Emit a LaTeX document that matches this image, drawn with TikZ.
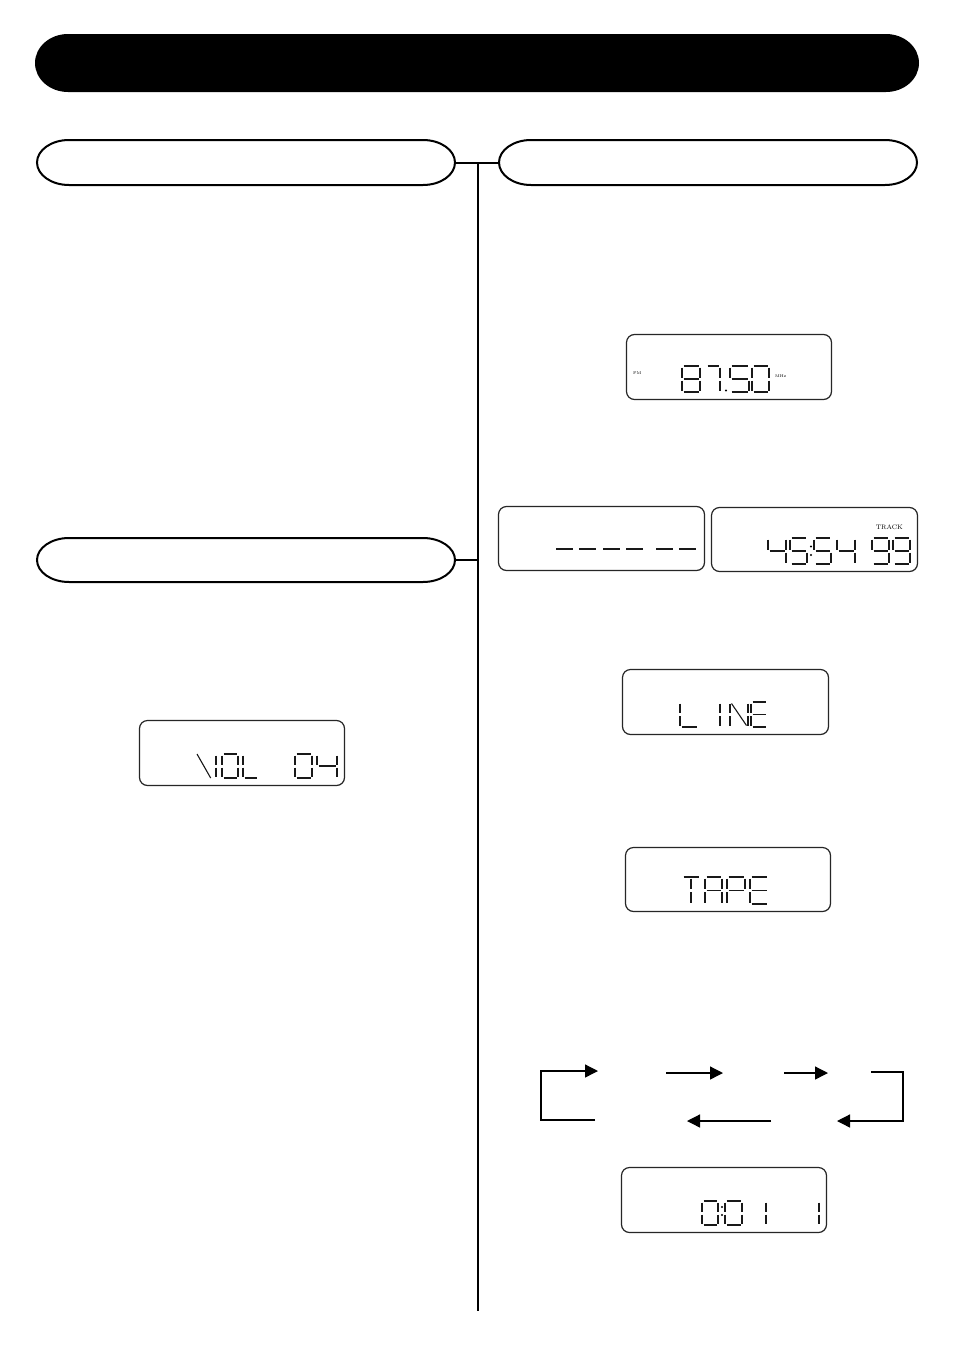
\documentclass[tikz,border=0pt]{standalone}
\usetikzlibrary{arrows.meta}
\tikzset{
  x=1pt, y=-1pt,
  anchorbox/.style={draw=none, inner sep=0, minimum width=#1},
  hdrline/.style={draw=black, fill=white, line width=2},
  barfill/.style={fill=black},
  lcd/.style={draw=black!85, line width=1.2, rounded corners=8, inner sep=0},
  seg/.style={line width=1.1, black!90},
  conn/.style={line width=2, black},
  cyc/.style={line width=1.3, black},
  cyca/.style={cyc, -{Triangle[length=13pt,width=13pt]}},
  tiny/.style={font=\fontsize{4}{4}\selectfont, inner sep=0},
  small/.style={font=\fontsize{6.5}{7}\selectfont, inner sep=0}
}
\def\G{1.5}
\def\sga{\draw[seg] (\G,0)--({\W-\G},0);}
\def\sgb{\draw[seg] (\W,\G)--(\W,{\H/2-\G});}
\def\sgc{\draw[seg] (\W,{\H/2+\G})--(\W,{\H-\G});}
\def\sgd{\draw[seg] (\G,\H)--({\W-\G},\H);}
\def\sge{\draw[seg] (0,{\H/2+\G})--(0,{\H-\G});}
\def\sgf{\draw[seg] (0,\G)--(0,{\H/2-\G});}
\def\sgg{\draw[seg] (\G,{\H/2})--({\W-\G},{\H/2});}
\def\sgi{\draw[seg] ({\W/2},\G)--({\W/2},{\H/2-\G});}
\def\sgj{\draw[seg] ({\W/2},{\H/2+\G})--({\W/2},{\H-\G});}
\def\sgk{\draw[seg] (\G,\G)--({\W-\G},{\H-\G});}
\def\sgv{\draw[seg] (0,0)--({0.72*\W},\H);}
\newcommand\dgt[5]{%
  \begin{scope}[shift={(#1,#2)}]
    \def\W{#3}\def\H{#4}%
    \foreach \s in {#5}{\csname sg\s\endcsname}
  \end{scope}}
\newcommand\lcddot[2]{\fill[black] (#1,#2) circle (1.1);}
% oval with elliptical ends: style, x1, y1, x2, y2, rx
\newcommand\ovalpath[6]{%
  \pgfmathsetmacro\oa{#2+#6}\pgfmathsetmacro\ob{#4-#6}%
  \pgfmathsetmacro\oc{(#3+#5)/2}\pgfmathsetmacro\ory{(#5-#3)/2}%
  \pgfmathsetmacro\okx{0.5523*#6}\pgfmathsetmacro\oky{0.5523*\ory}%
  \path[#1] (\oa,#3) -- (\ob,#3)
    .. controls ({\ob+\okx},#3) and (#4,{\oc-\oky}) .. (#4,\oc)
    .. controls (#4,{\oc+\oky}) and ({\ob+\okx},#5) .. (\ob,#5)
    -- (\oa,#5)
    .. controls ({\oa-\okx},#5) and (#2,{\oc+\oky}) .. (#2,\oc)
    .. controls (#2,{\oc-\oky}) and ({\oa-\okx},#3) .. (\oa,#3) -- cycle;}
\begin{document}
\begin{tikzpicture}
\useasboundingbox (0,0) rectangle (954,1349);
\fill[white] (0,0) rectangle (954,1349);

% title bar
\ovalpath{barfill}{35}{34}{919}{92}{33}
\node[anchorbox=884, minimum height=58] (title) at (477,63) {};

% headers
\ovalpath{hdrline}{37}{140}{455}{185}{32}
\node[anchorbox=418, minimum height=45] (lh1) at (246,162.5) {};
\ovalpath{hdrline}{499}{140}{917}{185}{32}
\node[anchorbox=418, minimum height=45] (rh1) at (708,162.5) {};
\ovalpath{hdrline}{37}{538}{455}{582}{32}
\node[anchorbox=418, minimum height=44] (lh2) at (246,560) {};

% connectors
\coordinate (jtop) at (478,162.5);
\coordinate (jbot) at (478,1311);
\draw[conn] (lh1.east) -- (rh1.west);
\draw[conn] (jtop) -- (jbot);
\draw[conn] (lh2.east) -- (lh2.east -| jtop);

% LCD boxes
\node[lcd, minimum width=205, minimum height=65] (fm) at (729,367) {};
\node[lcd, minimum width=206, minimum height=64] (blank) at (601.5,538.5) {};
\node[lcd, minimum width=206, minimum height=64] (track) at (814.5,539.5) {};
\node[lcd, minimum width=206, minimum height=65] (line) at (725.5,702) {};
\node[lcd, minimum width=205, minimum height=64] (tape) at (728,879.5) {};
\node[lcd, minimum width=205, minimum height=65] (vol) at (242,753) {};
\node[lcd, minimum width=205, minimum height=65] (clock) at (724,1200) {};

% FM 87.50 MHz
\node[tiny, anchor=west] (fmlbl) at (633,373) {FM};
\node[tiny, anchor=west] (mhz) at (775,376) {MHz};
\dgt{682}{366}{18}{26}{a,b,c,d,e,f,g}
\dgt{706}{366}{14}{26}{a,b,c}
\lcddot{726}{390.5}
\dgt{730}{366}{19}{26}{a,f,g,c,d}
\dgt{752}{366}{17}{26}{a,b,c,d,e,f}

% dashes
\foreach \xx in {556,579,603,626,656,679}{\draw[seg] (\xx,549) -- ++(17,0);}

% TRACK 45:54 99
\node[small, anchor=east] (trk) at (903,527) {TRACK};
\dgt{768}{538}{18}{26}{f,g,b,c}
\dgt{790}{538}{17}{26}{a,f,g,c,d}
\lcddot{811}{546.5}
\lcddot{811}{555}
\dgt{814}{538}{17}{26}{a,f,g,c,d}
\dgt{837}{538}{18}{26}{f,g,b,c}
\dgt{872}{538}{17}{26}{a,b,c,d,f,g}
\dgt{893}{538}{17}{26}{a,b,c,d,f,g}

% L INE
\dgt{680}{702}{18}{25}{f,e,d}
\dgt{720}{702}{0}{25}{b,c}
\dgt{730}{702}{18}{25}{f,e,b,c,k}
\dgt{751}{702}{16}{25}{a,d,e,f,g}

% TAPE
\dgt{682}{877}{18}{27}{a,i,j}
\dgt{705}{877}{17}{27}{a,b,c,e,f,g}
\dgt{727}{877}{18}{27}{a,b,e,f,g}
\dgt{750}{877}{18}{27}{a,d,e,f,g}

% VOL 04
\dgt{197}{754}{19}{24}{v,b,c}
\dgt{222}{754}{16}{24}{a,b,c,d,e,f}
\dgt{243}{754}{15}{24}{f,e,d}
\dgt{295}{754}{17}{24}{a,b,c,d,e,f}
\dgt{317}{754}{20}{24}{f,g,b,c}

% 0:01 1
\dgt{702}{1201}{16}{24}{a,b,c,d,e,f}
\lcddot{722}{1207}
\lcddot{722}{1215}
\dgt{725}{1201}{17}{24}{a,b,c,d,e,f}
\dgt{766}{1201}{0}{24}{b,c}
\dgt{819}{1201}{0}{24}{b,c}

% cycle arrows
\coordinate (lb1) at (595,1120);
\coordinate (lbc) at (541,1071);
\coordinate (lb2) at (598,1071);
\draw[cyca] (lb1) -| (lbc) -- (lb2);
\coordinate (a2s) at (666,1073);
\coordinate (a2e) at (723,1073);
\draw[cyca] (a2s) -- (a2e);
\coordinate (a3s) at (784,1073);
\coordinate (a3e) at (828,1073);
\draw[cyca] (a3s) -- (a3e);
\coordinate (rb1) at (871,1072);
\coordinate (rbc) at (903,1072);
\coordinate (rb2) at (837,1121);
\draw[cyca] (rb1) -- (rbc) |- (rb2);
\coordinate (a4s) at (771,1121);
\coordinate (a4e) at (687,1121);
\draw[cyca] (a4s) -- (a4e);
\end{tikzpicture}
\end{document}
